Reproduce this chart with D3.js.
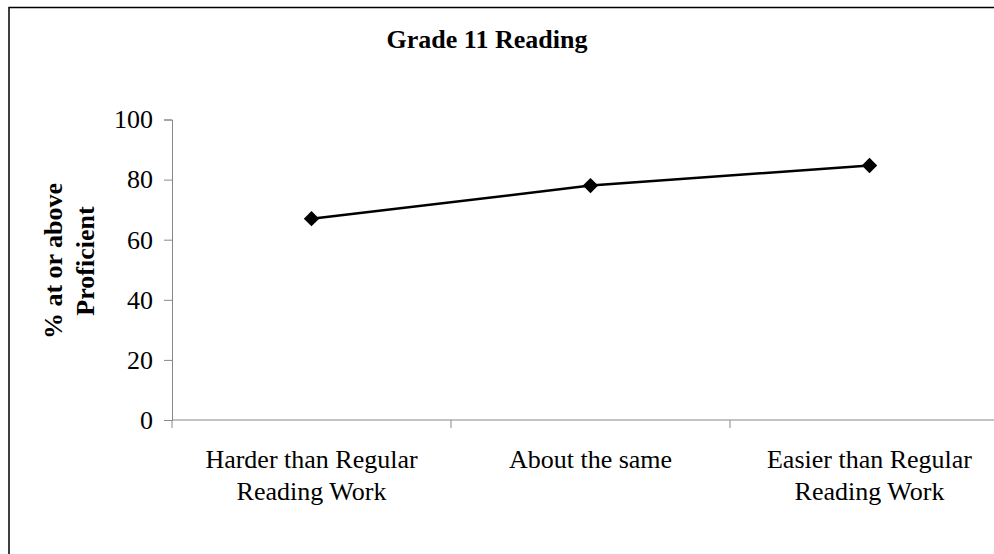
<!DOCTYPE html>
<html>
<head>
<meta charset="utf-8">
<script src="https://cdn.jsdelivr.net/npm/d3@7"></script>
<style>
  body { margin: 0; background: #fff; }
  svg { display: block; }
</style>
</head>
<body>
<div id="chart"></div>
<script>
// values
const categories = [
    ["Harder than Regular", "Reading Work"],
    ["About the same"],
    ["Easier than Regular", "Reading Work"]
]
const values = [67, 78, 84.7]
const yTicks = [0, 20, 40, 60, 80, 100]

const width = 994
const height = 554
const font = "'Liberation Serif', 'Times New Roman', serif"

const svg = d3.select("#chart")
    .append("svg")
    .attr("width", width)
    .attr("height", height)
    .style("font-family", font)

// outer chart frame (runs off right and bottom)
svg.append("rect")
    .attr("x", 9)
    .attr("y", 7.5)
    .attr("width", width + 20)
    .attr("height", height + 20)
    .attr("fill", "#fff")
    .attr("stroke", "#000")
    .attr("stroke-width", 1.5)

const x = d3.scaleBand()
    .domain(d3.range(categories.length))
    .range([172, 172 + 3 * 279])

const y = d3.scaleLinear()
    .domain([0, 100])
    .range([420, 119.5])

// y axis
const yAxis = svg.append("g")
    .attr("transform", "translate(172,0)")
    .call(d3.axisLeft(y).tickValues(yTicks).tickSize(8).tickPadding(11))
yAxis.select(".domain").attr("stroke", "#888")
yAxis.selectAll(".tick line").attr("stroke", "#888")
yAxis.selectAll("text")
    .attr("fill", "#000")
    .style("font-family", font)
    .style("font-size", "26px")

// x axis with ticks at band edges
const xAxis = svg.append("g")
    .attr("transform", "translate(0,420)")
xAxis.append("line")
    .attr("x1", 172).attr("x2", width)
    .attr("stroke", "#888")
xAxis.selectAll("line.tick")
    .data(d3.range(categories.length + 1))
    .join("line")
    .attr("class", "tick")
    .attr("x1", d => x(0) + d * x.step())
    .attr("x2", d => x(0) + d * x.step())
    .attr("y1", 0).attr("y2", 8)
    .attr("stroke", "#888")

const catLabel = svg.append("g")
    .selectAll("text")
    .data(categories)
    .join("text")
    .attr("text-anchor", "middle")
    .style("font-size", "26px")
    .attr("fill", "#000")
    .attr("transform", (d, i) => `translate(${x(i) + x.bandwidth() / 2},468)`)
catLabel.selectAll("tspan")
    .data(d => d)
    .join("tspan")
    .attr("x", 0)
    .attr("dy", (d, i) => i === 0 ? 0 : 32)
    .text(d => d)

// line + diamond markers
const line = d3.line()
    .x((d, i) => x(i) + x.bandwidth() / 2)
    .y(d => y(d))

svg.append("path")
    .datum(values)
    .attr("fill", "none")
    .attr("stroke", "#000")
    .attr("stroke-width", 2.5)
    .attr("d", line)

svg.append("g")
    .selectAll("path")
    .data(values)
    .join("path")
    .attr("d", d3.symbol(d3.symbolSquare, 118))
    .attr("transform", (d, i) => `translate(${x(i) + x.bandwidth() / 2},${y(d)}) rotate(45)`)
    .attr("fill", "#000")

// title
svg.append("text")
    .attr("x", 487)
    .attr("y", 48)
    .attr("text-anchor", "middle")
    .style("font-size", "26px")
    .style("font-weight", "bold")
    .text("Grade 11 Reading")

// y axis title, two lines
const yTitle = svg.append("text")
    .attr("transform", "translate(62,261) rotate(-90)")
    .attr("text-anchor", "middle")
    .style("font-size", "26px")
    .style("font-weight", "bold")
yTitle.append("tspan").attr("x", 0).attr("dy", 0).text("% at or above")
yTitle.append("tspan").attr("x", 0).attr("dy", 32).text("Proficient")
</script>
</body>
</html>
